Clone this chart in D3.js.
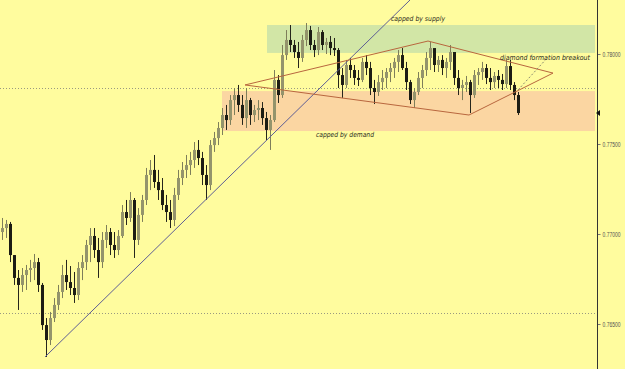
<!DOCTYPE html>
<html>
<head>
<meta charset="utf-8">
<script src="https://cdn.jsdelivr.net/npm/d3@7"></script>
<style>
  body { margin: 0; background: #fffc9e; }
  svg { display: block; }
</style>
</head>
<body>
<svg id="chart" width="625" height="369"></svg>
<script>
// price bars (open of each bar = previous close)
const firstOpen = 0.77011;
const highs = [
  0.77089,0.77078,0.77067,0.76883,0.76800,0.76811,0.76828,0.76856,0.76889,0.76867,
  0.76728,0.76533,0.76567,0.76644,0.76717,0.76828,0.76856,0.76822,0.76789,0.76844,
  0.76883,0.76967,0.77033,0.77033,0.76978,0.77011,0.77050,0.77033,0.77011,0.77022,
  0.77161,0.77189,0.77233,0.77200,0.77144,0.77217,0.77367,0.77411,0.77439,0.77356,
  0.77311,0.77217,0.77189,0.77256,0.77356,0.77400,0.77439,0.77456,0.77511,0.77522,
  0.77456,0.77383,0.77522,0.77567,0.77622,0.77700,0.77717,0.77772,0.77811,0.77828,
  0.77772,0.77811,0.77756,0.77717,0.77744,0.77733,0.77678,0.77661,0.77911,0.77883,
  0.78050,0.78133,0.78161,0.78078,0.78067,0.78106,0.78172,0.78156,0.78078,0.78150,
  0.78133,0.78089,0.78100,0.78089,0.78033,0.77922,0.77967,0.77978,0.77939,0.77911,
  0.77978,0.77994,0.77956,0.77856,0.77883,0.77911,0.77922,0.77950,0.77978,0.78022,
  0.78033,0.77956,0.77856,0.77811,0.77900,0.77939,0.78011,0.78067,0.78022,0.77989,
  0.77994,0.77978,0.78050,0.77994,0.77911,0.77856,0.77878,0.77856,0.77911,0.77922,
  0.77956,0.77944,0.77922,0.77900,0.77911,0.77889,0.77967,0.77967,0.77844,0.77789
];
const lows = [
  0.76967,0.76978,0.76844,0.76717,0.76578,0.76678,0.76689,0.76733,0.76744,0.76678,
  0.76467,0.76317,0.76383,0.76511,0.76578,0.76644,0.76689,0.76661,0.76617,0.76633,
  0.76744,0.76800,0.76844,0.76867,0.76756,0.76811,0.76922,0.76883,0.76867,0.76883,
  0.76978,0.77050,0.77067,0.76867,0.76939,0.77067,0.77161,0.77244,0.77256,0.77189,
  0.77133,0.77067,0.77033,0.77044,0.77189,0.77272,0.77311,0.77328,0.77367,0.77383,
  0.77272,0.77189,0.77244,0.77456,0.77494,0.77550,0.77578,0.77606,0.77661,0.77678,
  0.77606,0.77589,0.77606,0.77622,0.77633,0.77606,0.77522,0.77467,0.77622,0.77728,
  0.77756,0.77967,0.78011,0.77978,0.77922,0.77956,0.78044,0.78022,0.77983,0.77994,
  0.78022,0.78000,0.77994,0.77989,0.77811,0.77756,0.77811,0.77867,0.77828,0.77822,
  0.77844,0.77883,0.77772,0.77722,0.77767,0.77800,0.77811,0.77844,0.77867,0.77900,
  0.77911,0.77800,0.77722,0.77700,0.77772,0.77811,0.77878,0.77911,0.77900,0.77900,
  0.77883,0.77867,0.77911,0.77828,0.77772,0.77744,0.77789,0.77672,0.77756,0.77828,
  0.77856,0.77833,0.77800,0.77811,0.77811,0.77800,0.77811,0.77800,0.77744,0.77661
];
const closes = [
  0.77033,0.77056,0.76883,0.76756,0.76717,0.76772,0.76800,0.76811,0.76844,0.76717,
  0.76494,0.76411,0.76533,0.76606,0.76678,0.76772,0.76733,0.76700,0.76661,0.76811,
  0.76844,0.76939,0.76989,0.76911,0.76844,0.76967,0.77011,0.76939,0.76911,0.76989,
  0.77122,0.77089,0.77189,0.76967,0.77106,0.77189,0.77328,0.77356,0.77289,0.77244,
  0.77161,0.77122,0.77078,0.77217,0.77311,0.77356,0.77383,0.77411,0.77467,0.77422,
  0.77328,0.77272,0.77494,0.77533,0.77589,0.77661,0.77633,0.77744,0.77772,0.77717,
  0.77644,0.77744,0.77661,0.77689,0.77700,0.77644,0.77578,0.77633,0.77856,0.77772,
  0.77994,0.78078,0.78050,0.78011,0.77978,0.78078,0.78133,0.78050,0.78022,0.78122,
  0.78050,0.78067,0.78033,0.78022,0.77883,0.77828,0.77939,0.77911,0.77867,0.77856,
  0.77956,0.77922,0.77811,0.77789,0.77844,0.77867,0.77900,0.77922,0.77956,0.77994,
  0.77922,0.77844,0.77744,0.77789,0.77867,0.77911,0.77978,0.78033,0.77939,0.77967,
  0.77922,0.77956,0.78011,0.77867,0.77811,0.77828,0.77844,0.77772,0.77883,0.77900,
  0.77922,0.77867,0.77844,0.77878,0.77856,0.77833,0.77933,0.77828,0.77772,0.77672
];

const priceTicks = [0.765, 0.770, 0.775, 0.780];
const levelLines = [0.77811, 0.76561];      // dotted horizontal levels
const lastPrice = 0.77672;

// annotations, in bar index / price
const supplyZone = {x0: 66.25, x1: 148.25, top: 0.78161, bottom: 0.78006};
const demandZone = {x0: 55, x1: 148.25, top: 0.77794, bottom: 0.77572};
const trendLine = [[10.75, 0.76317], [102, 0.7830]];
const diamond = [[60.75, 0.77828], [106.5, 0.78072], [137.75, 0.77894], [116.75, 0.77661]];
const breakout = [[129, 0.77800], [136.5, 0.77983]];

const bars = closes.map((c, i) => ({
  i: i,
  open: i == 0 ? firstOpen : closes[i - 1],
  high: highs[i],
  low: lows[i],
  close: c
}));

const svg = d3.select("#chart");

const x = d3.scaleLinear().domain([0, 129]).range([2, 518]);
const y = d3.scaleLinear().domain([0.765, 0.780]).range([324, 54]);
const axisX = 597;

svg.append("rect")
  .attr("width", 625).attr("height", 369)
  .attr("fill", "#fffc9e");

// zones
svg.append("rect")
  .attr("x", x(supplyZone.x0)).attr("y", y(supplyZone.top))
  .attr("width", x(supplyZone.x1) - x(supplyZone.x0))
  .attr("height", y(supplyZone.bottom) - y(supplyZone.top))
  .attr("fill", "#d2e6a6");

svg.append("rect")
  .attr("x", x(demandZone.x0)).attr("y", y(demandZone.top))
  .attr("width", x(demandZone.x1) - x(demandZone.x0))
  .attr("height", y(demandZone.bottom) - y(demandZone.top))
  .attr("fill", "#fbd6a2");

// dotted levels
svg.selectAll(".level")
  .data(levelLines)
  .enter()
  .append("line")
  .attr("class", "level")
  .attr("x1", 0).attr("x2", axisX - 2)
  .attr("y1", d => Math.round(y(d)) + 0.5)
  .attr("y2", d => Math.round(y(d)) + 0.5)
  .attr("stroke", "#9a9a80")
  .attr("stroke-width", 1)
  .attr("stroke-dasharray", "1,2");

// candles
const candles = svg.append("g");
candles.selectAll("line")
  .data(bars)
  .enter()
  .append("line")
  .attr("x1", d => Math.round(x(d.i)) + 0.5)
  .attr("x2", d => Math.round(x(d.i)) + 0.5)
  .attr("y1", d => y(d.high))
  .attr("y2", d => y(d.low))
  .attr("stroke", d => d.close >= d.open ? "#7e7e5a" : "#26261c")
  .attr("stroke-width", 1);

candles.selectAll("rect")
  .data(bars)
  .enter()
  .append("rect")
  .attr("x", d => Math.round(x(d.i)) - 1)
  .attr("width", 3)
  .attr("y", d => y(Math.max(d.open, d.close)))
  .attr("height", d => Math.max(1, Math.abs(y(d.open) - y(d.close))))
  .attr("fill", d => d.close >= d.open ? "#94946c" : "#1c1c14");

// trend line
svg.append("line")
  .attr("x1", x(trendLine[0][0])).attr("y1", y(trendLine[0][1]))
  .attr("x2", x(trendLine[1][0])).attr("y2", y(trendLine[1][1]))
  .attr("stroke", "#5e5e94")
  .attr("stroke-width", 1);

// diamond
svg.append("path")
  .attr("d", d3.line().x(d => x(d[0])).y(d => y(d[1]))(diamond) + "Z")
  .attr("fill", "none")
  .attr("stroke", "#b8663e")
  .attr("stroke-width", 1);

svg.append("line")
  .attr("x1", x(breakout[0][0])).attr("y1", y(breakout[0][1]))
  .attr("x2", x(breakout[1][0])).attr("y2", y(breakout[1][1]))
  .attr("stroke", "#8a8a70")
  .attr("stroke-width", 1)
  .attr("stroke-dasharray", "2,2");

// notes
const notes = [
  {t: "capped by supply", x: 391, y: 21, w: 54},
  {t: "capped by demand", x: 316, y: 137, w: 58},
  {t: "diamond formation breakout", x: 500, y: 60, w: 90}
];
svg.selectAll(".note")
  .data(notes)
  .enter()
  .append("text")
  .attr("class", "note")
  .attr("x", d => d.x).attr("y", d => d.y)
  .attr("textLength", d => d.w)
  .attr("lengthAdjust", "spacingAndGlyphs")
  .attr("font-family", "DejaVu Sans")
  .attr("font-style", "italic")
  .attr("font-size", "7px")
  .attr("fill", "#2a2a20")
  .text(d => d.t);

// right price axis
const yAxis = svg.append("g")
  .attr("transform", `translate(${axisX + 0.5},0)`)
  .call(d3.axisRight(y).tickValues(priceTicks).tickSize(3).tickPadding(2)
    .tickFormat(d3.format(".5f")));
yAxis.select(".domain").remove();
yAxis.selectAll(".tick line").attr("stroke", "#777");
yAxis.selectAll(".tick text")
  .attr("font-family", "Liberation Sans")
  .attr("font-size", "6.5px")
  .attr("fill", "#555")
  .attr("textLength", 18)
  .attr("lengthAdjust", "spacingAndGlyphs");

svg.append("line")
  .attr("x1", axisX + 0.5).attr("x2", axisX + 0.5)
  .attr("y1", 0).attr("y2", 369)
  .attr("stroke", "#333")
  .attr("stroke-width", 1);

// last price marker
svg.append("path")
  .attr("d", `M${axisX - 1},${y(lastPrice)} l4,-3 v6 Z`)
  .attr("fill", "#111");
</script>
</body>
</html>
